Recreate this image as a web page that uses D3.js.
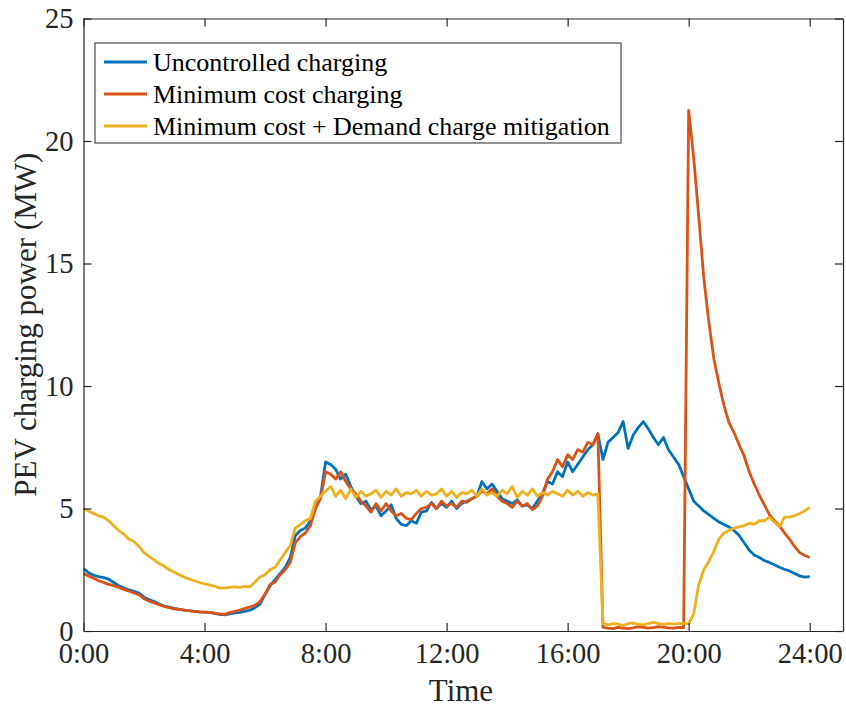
<!DOCTYPE html>
<html>
<head>
<meta charset="utf-8">
<script src="https://cdn.jsdelivr.net/npm/d3@7"></script>
<style>
  body { margin: 0; background: #fff; }
  svg { display: block; }
  text { font-family: "Liberation Serif", "Times New Roman", serif; }
</style>
</head>
<body>
<div id="chart"></div>
<script>
// 10-minute samples, 0:00 .. 24:00 (145 points)
const hours = d3.range(145).map((i) => i / 6);

const seriesNames = ['Uncontrolled charging', 'Minimum cost charging', 'Minimum cost + Demand charge mitigation'];
const seriesColors = ['#0072BD', '#D95319', '#EDB120'];

const uncontrolled = [
  2.55, 2.38, 2.28, 2.22, 2.18, 2.12, 1.98, 1.85, 1.75, 1.68, 1.62, 1.55,
  1.38, 1.28, 1.2, 1.1, 1.02, 0.97, 0.92, 0.88, 0.85, 0.83, 0.8, 0.78,
  0.77, 0.76, 0.72, 0.68, 0.66, 0.7, 0.74, 0.76, 0.8, 0.85, 0.95, 1.1,
  1.5, 1.85, 2.1, 2.35, 2.6, 3.0, 3.9, 4.1, 4.2, 4.5, 5.2, 5.5,
  6.9, 6.8, 6.6, 6.2, 6.4, 5.9, 5.5, 5.2, 5.3, 4.95, 5.1, 4.7,
  4.9, 5.15, 4.6, 4.35, 4.3, 4.5, 4.4, 4.85, 4.9, 5.25, 5.0, 5.2,
  5.05, 5.3, 5.0, 5.2, 5.3, 5.4, 5.5, 6.1, 5.8, 6.0, 5.7, 5.4,
  5.3, 5.2, 5.35, 5.1, 5.15, 5.0, 5.3, 5.6, 6.1, 6.0, 6.5, 6.3,
  6.9, 6.5, 6.8, 7.1, 7.4, 7.6, 8.05, 7.0, 7.7, 7.9, 8.1, 8.55,
  7.45, 8.0, 8.3, 8.55, 8.25, 7.9, 7.6, 7.9, 7.4, 7.1, 6.8, 6.3,
  5.8, 5.3, 5.1, 4.9, 4.75, 4.6, 4.45, 4.35, 4.25, 4.1, 3.9, 3.6,
  3.3, 3.1, 3.0, 2.88, 2.8, 2.7, 2.6, 2.52, 2.45, 2.35, 2.25, 2.2,
  2.22
];

const minCost = [
  2.35, 2.25, 2.15, 2.05, 1.98, 1.9, 1.85, 1.78, 1.7, 1.63, 1.55, 1.48,
  1.32, 1.22, 1.15, 1.07, 1.0, 0.95, 0.9, 0.88, 0.85, 0.82, 0.8, 0.78,
  0.77, 0.76, 0.72, 0.7, 0.68, 0.75, 0.8, 0.85, 0.92, 0.98, 1.05, 1.2,
  1.5, 1.9, 2.0, 2.3, 2.5, 2.8, 3.6, 3.85, 4.0, 4.3, 5.0, 5.4,
  6.5, 6.4, 6.2, 6.5, 6.1, 5.8, 5.6, 5.3, 5.1, 4.85, 5.2, 4.9,
  5.2, 4.9, 4.7, 4.8, 4.6, 4.55, 4.8, 5.0, 5.05, 5.2, 5.0, 5.3,
  5.1, 5.2, 5.05, 5.3, 5.25, 5.4, 5.5, 5.7, 5.6, 5.8, 5.5, 5.3,
  5.2, 5.05, 5.3, 5.1, 5.2, 4.95, 5.1, 5.5, 6.2, 6.5, 7.0, 6.7,
  7.2, 7.0, 7.4, 7.3, 7.7, 7.6, 8.05, 0.15, 0.12, 0.1, 0.15, 0.12,
  0.1, 0.13, 0.18, 0.15, 0.12, 0.14, 0.18, 0.16, 0.13, 0.12, 0.15, 0.14,
  21.25, 19.3, 16.9, 14.4, 12.6, 11.1, 10.1, 9.2, 8.5, 8.1, 7.6, 7.15,
  6.5, 6.0, 5.55, 5.15, 4.75, 4.5, 4.3, 4.0, 3.75, 3.45, 3.2, 3.08,
  3.0
];

const minCostDemand = [
  5.0, 4.9, 4.8, 4.7, 4.65, 4.5, 4.3, 4.1, 3.95, 3.75, 3.65, 3.45,
  3.2, 3.05, 2.9, 2.75, 2.65, 2.5, 2.4, 2.3, 2.2, 2.12, 2.05, 1.98,
  1.92, 1.88, 1.82, 1.76, 1.75, 1.78, 1.8, 1.78, 1.82, 1.8, 2.0, 2.2,
  2.3, 2.5, 2.6, 2.9, 3.2, 3.5, 4.2, 4.35, 4.5, 4.6, 5.3, 5.5,
  5.7, 5.9, 5.5, 5.75, 5.4, 5.8, 5.45, 5.7, 5.5, 5.6, 5.75, 5.45,
  5.7, 5.55, 5.8, 5.5, 5.65, 5.6, 5.75, 5.5, 5.7, 5.55, 5.6, 5.8,
  5.5, 5.7, 5.45, 5.65, 5.6, 5.75, 5.5, 5.8, 5.55, 5.65, 5.5, 5.75,
  5.6, 5.9, 5.45, 5.7, 5.55, 5.8, 5.5, 5.65, 5.55, 5.7, 5.6, 5.5,
  5.75, 5.55, 5.7, 5.5, 5.65, 5.55, 5.6, 0.3, 0.25, 0.3, 0.28, 0.22,
  0.3, 0.32, 0.28, 0.25, 0.3, 0.35, 0.3, 0.27, 0.3, 0.28, 0.3, 0.32,
  0.3, 0.7, 1.9, 2.5, 2.85, 3.25, 3.75, 4.0, 4.1, 4.2, 4.25, 4.3,
  4.4, 4.35, 4.5, 4.5, 4.65, 4.45, 4.25, 4.65, 4.65, 4.7, 4.8, 4.9,
  5.05
];

const xTicks = [0, 4, 8, 12, 16, 20, 24];
const yTicks = [0, 5, 10, 15, 20, 25];

const W = 846, H = 709;
const margin = { top: 18.5, right: 3, bottom: 78, left: 83.5 };
const width = W - margin.left - margin.right;
const height = H - margin.top - margin.bottom;
const axisColor = '#262626';
const tickLen = 8;
const serif = '"Liberation Serif", "Times New Roman", serif';

const svg = d3.select('#chart').append('svg').attr('width', W).attr('height', H);
const g = svg.append('g').attr('transform', `translate(${margin.left},${margin.top})`);

const x = d3.scaleLinear().domain([0, 25.1]).range([0, width]);
const y = d3.scaleLinear().domain([0, 25]).range([height, 0]);

// lines, plotted in MATLAB order (yellow on top)
const line = d3.line().x((d, i) => x(hours[i])).y((d) => y(d));
[uncontrolled, minCost, minCostDemand].forEach((vals, k) => {
  g.append('path')
    .datum(vals)
    .attr('fill', 'none')
    .attr('stroke', seriesColors[k])
    .attr('stroke-width', 2.8)
    .attr('stroke-linejoin', 'round')
    .attr('d', line);
});

// axes (ticks inward, box on)
const axBottom = g.append('g').attr('transform', `translate(0,${height})`)
  .call(d3.axisBottom(x).tickValues(xTicks).tickFormat((d) => `${d}:00`).tickSizeInner(-tickLen).tickSizeOuter(0).tickPadding(12));
const axLeft = g.append('g')
  .call(d3.axisLeft(y).tickValues(yTicks).tickSizeInner(-tickLen).tickSizeOuter(0).tickPadding(10));
const axTop = g.append('g')
  .call(d3.axisTop(x).tickValues(xTicks).tickFormat('').tickSizeInner(-tickLen).tickSizeOuter(0));
const axRight = g.append('g').attr('transform', `translate(${width},0)`)
  .call(d3.axisRight(y).tickValues(yTicks).tickFormat('').tickSizeInner(-tickLen).tickSizeOuter(0));

[axBottom, axLeft, axTop, axRight].forEach((a) => {
  a.attr('font-family', serif);
  a.selectAll('path').attr('stroke', axisColor).attr('stroke-width', 1.2);
  a.selectAll('line').attr('stroke', axisColor).attr('stroke-width', 1.2);
  a.selectAll('text').attr('fill', axisColor)
    .style('font-family', serif).style('font-size', '28.5px');
});

// axis labels
g.append('text')
  .attr('x', width * 0.497)
  .attr('y', height + 70)
  .attr('text-anchor', 'middle')
  .attr('fill', axisColor)
  .style('font-family', serif)
  .style('font-size', '31px')
  .text('Time');

g.append('text')
  .attr('transform', 'rotate(-90)')
  .attr('x', -height / 2)
  .attr('y', -margin.left + 36)
  .attr('text-anchor', 'middle')
  .attr('fill', axisColor)
  .style('font-family', serif)
  .style('font-size', '31px')
  .text('PEV charging power (MW)');

// legend
const legend = svg.append('g').attr('transform', 'translate(95,43)');
legend.append('rect')
  .attr('width', 526)
  .attr('height', 100)
  .attr('fill', '#fff')
  .attr('stroke', axisColor)
  .attr('stroke-width', 1);
seriesNames.forEach((name, k) => {
  const ry = 19 + k * 32;
  legend.append('line')
    .attr('x1', 9).attr('x2', 52)
    .attr('y1', ry).attr('y2', ry)
    .attr('stroke', seriesColors[k])
    .attr('stroke-width', 2.8);
  legend.append('text')
    .attr('x', 58)
    .attr('y', ry + 8.5)
    .attr('fill', '#000')
    .style('font-family', serif)
    .style('font-size', '26px')
    .text(name);
});
</script>
</body>
</html>
